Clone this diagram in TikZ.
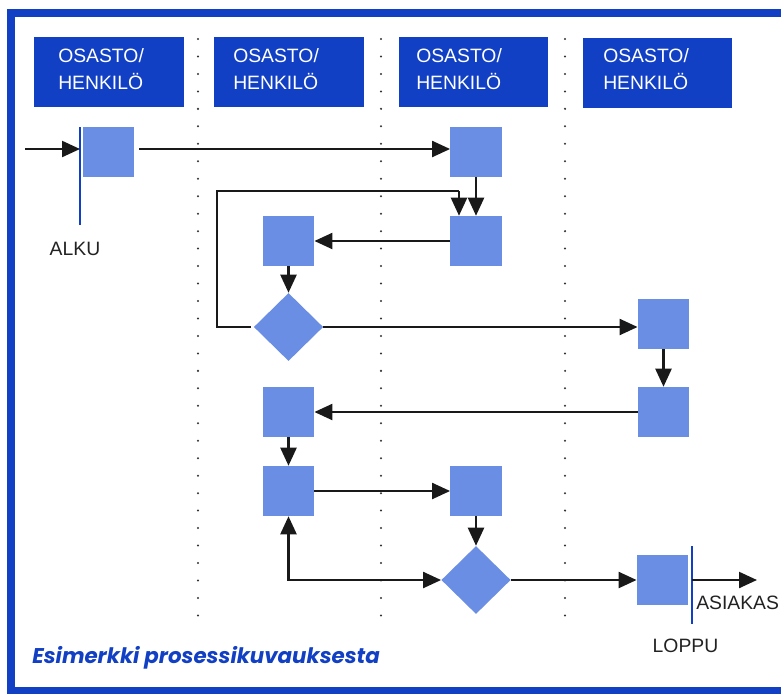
\documentclass[tikz,border=0pt]{standalone}
\usepackage{fontspec}
\setmainfont{Liberation Sans}
\newfontfamily\capfont{Poppins}
\usetikzlibrary{arrows.meta,shapes.geometric}
\definecolor{deepblue}{HTML}{1240C4}
\definecolor{stepblue}{HTML}{6A8EE3}
\definecolor{inkgray}{HTML}{222222}
\begin{document}
\begin{tikzpicture}[x=0.75pt,y=-0.75pt,
  >={Triangle[length=13.5pt,width=12pt]},
  headbox/.style={fill=deepblue,draw=none,inner sep=0pt,minimum width=112pt,minimum height=52.5pt},
  headtext/.style={text=white,font=\fontsize{14.5}{17}\selectfont,anchor=base west,inner sep=0pt},
  stepbox/.style={fill=stepblue,draw=none,inner sep=0pt,minimum width=38.5pt,minimum height=37.5pt},
  decision/.style={diamond,fill=stepblue,draw=none,inner sep=0pt,minimum width=52pt,minimum height=51pt},
  flow/.style={line width=1.7pt,draw=black!90,->},
  flowline/.style={line width=1.7pt,draw=black!90},
  lane/.style={line width=1.7pt,line cap=round,dash pattern=on 0pt off 13.1pt,draw=black!80},
  bar/.style={line width=1.6pt,draw=deepblue},
  label/.style={text=inkgray,font=\fontsize{14.5}{17}\selectfont,inner sep=0pt}]
\useasboundingbox (0,0) rectangle (781,693);
\begin{scope}
\clip (0,0) rectangle (781,693);
% outer frame
\fill[deepblue] (7,9) rectangle (790,17);
\fill[deepblue] (7,9) rectangle (15,700);
\fill[deepblue] (7,687) rectangle (790,700);
\end{scope}

% lane separators
\foreach \lx in {198,381,565}
  \draw[lane] (\lx,39) -- (\lx,618);

% lane headers
\node[headbox] (h1) at (109,71.5) {};
\node[headbox] (h2) at (289,72) {};
\node[headbox] (h3) at (473.5,72) {};
\node[headbox] (h4) at (657.5,72.5) {};
\node[headtext] (h1a) at (58,62) {OSASTO/};
\node[headtext] (h1b) at (58,89.5) {HENKILÖ};
\node[headtext] (h2a) at (233,62) {OSASTO/};
\node[headtext] (h2b) at (233,89.5) {HENKILÖ};
\node[headtext] (h3a) at (416,62) {OSASTO/};
\node[headtext] (h3b) at (416,89.5) {HENKILÖ};
\node[headtext] (h4a) at (603,62) {OSASTO/};
\node[headtext] (h4b) at (603,89.5) {HENKILÖ};

% process steps
\node[stepbox] (s1) at (108.5,152) {};
\node[stepbox] (s2) at (476,152) {};
\node[stepbox] (s3) at (476,241) {};
\node[stepbox] (s4) at (288.5,241) {};
\node[decision] (d1) at (288.5,327) {};
\node[stepbox] (s5) at (663.5,324) {};
\node[stepbox] (s6) at (663.5,412) {};
\node[stepbox] (s7) at (288.5,412) {};
\node[stepbox] (s8) at (288.5,491) {};
\node[stepbox] (s9) at (476,491) {};
\node[decision] (d2) at (476,580) {};
\node[stepbox] (s10) at (662.5,580) {};

% start and end markers
\coordinate (in) at (25,149);
\coordinate (startTop) at (80,127);
\coordinate (startBot) at (80,225);
\coordinate (startMid) at (80,149);
\draw[bar] (startTop) -- (startBot);
\draw[flow] (in) -- (startMid);
\node[label] (alku) at (75,248.5) {ALKU};

\coordinate (endTop) at (692,546);
\coordinate (endBot) at (692,624);
\coordinate (endMid) at (692,580);
\coordinate (out) at (757,580);
\draw[bar] (endTop) -- (endBot);
\draw[flow] (endMid) -- (out);
\node[label,anchor=west] (asiakas) at (696,603) {ASIAKAS};
\node[label] (loppu) at (685.5,646) {LOPPU};

% connectors
\draw[flow] (s1.east |- startMid) ++(5,0) -- (s2.west |- startMid);
\draw[flow] (s2.south) -- (s3.north);
\draw[flow] (s3.west) -- (s4.east);
\draw[flow] (s4.south) -- (d1.north);
\coordinate (loopA) at (217,327);
\coordinate (loopB) at (217,191);
\coordinate (loopC) at (459,191);
\draw[flowline] (d1.west) ++(-3,0) -- (loopA) -- (loopB) -- (loopC);
\draw[flow] (loopC) -- (loopC |- s3.north);
\draw[flow] (d1.east) -- (d1.east -| s5.west);
\draw[flow] (s5.south) -- (s6.north);
\draw[flow] (s6.west) -- (s7.east);
\draw[flow] (s7.south) -- (s8.north);
\draw[flow] (s8.east) -- (s9.west);
\draw[flow] (s9.south) -- (d2.north);
\draw[flow,<->] (s8.south) |- (d2.west);
\draw[flow] (d2.east) -- (s10.west);

% caption
\node[anchor=base west,inner sep=0pt,text=deepblue,font=\capfont\bfseries\itshape\fontsize{16}{19}\selectfont] (caption) at (32,663) {Esimerkki prosessikuvauksesta};
\end{tikzpicture}
\end{document}
